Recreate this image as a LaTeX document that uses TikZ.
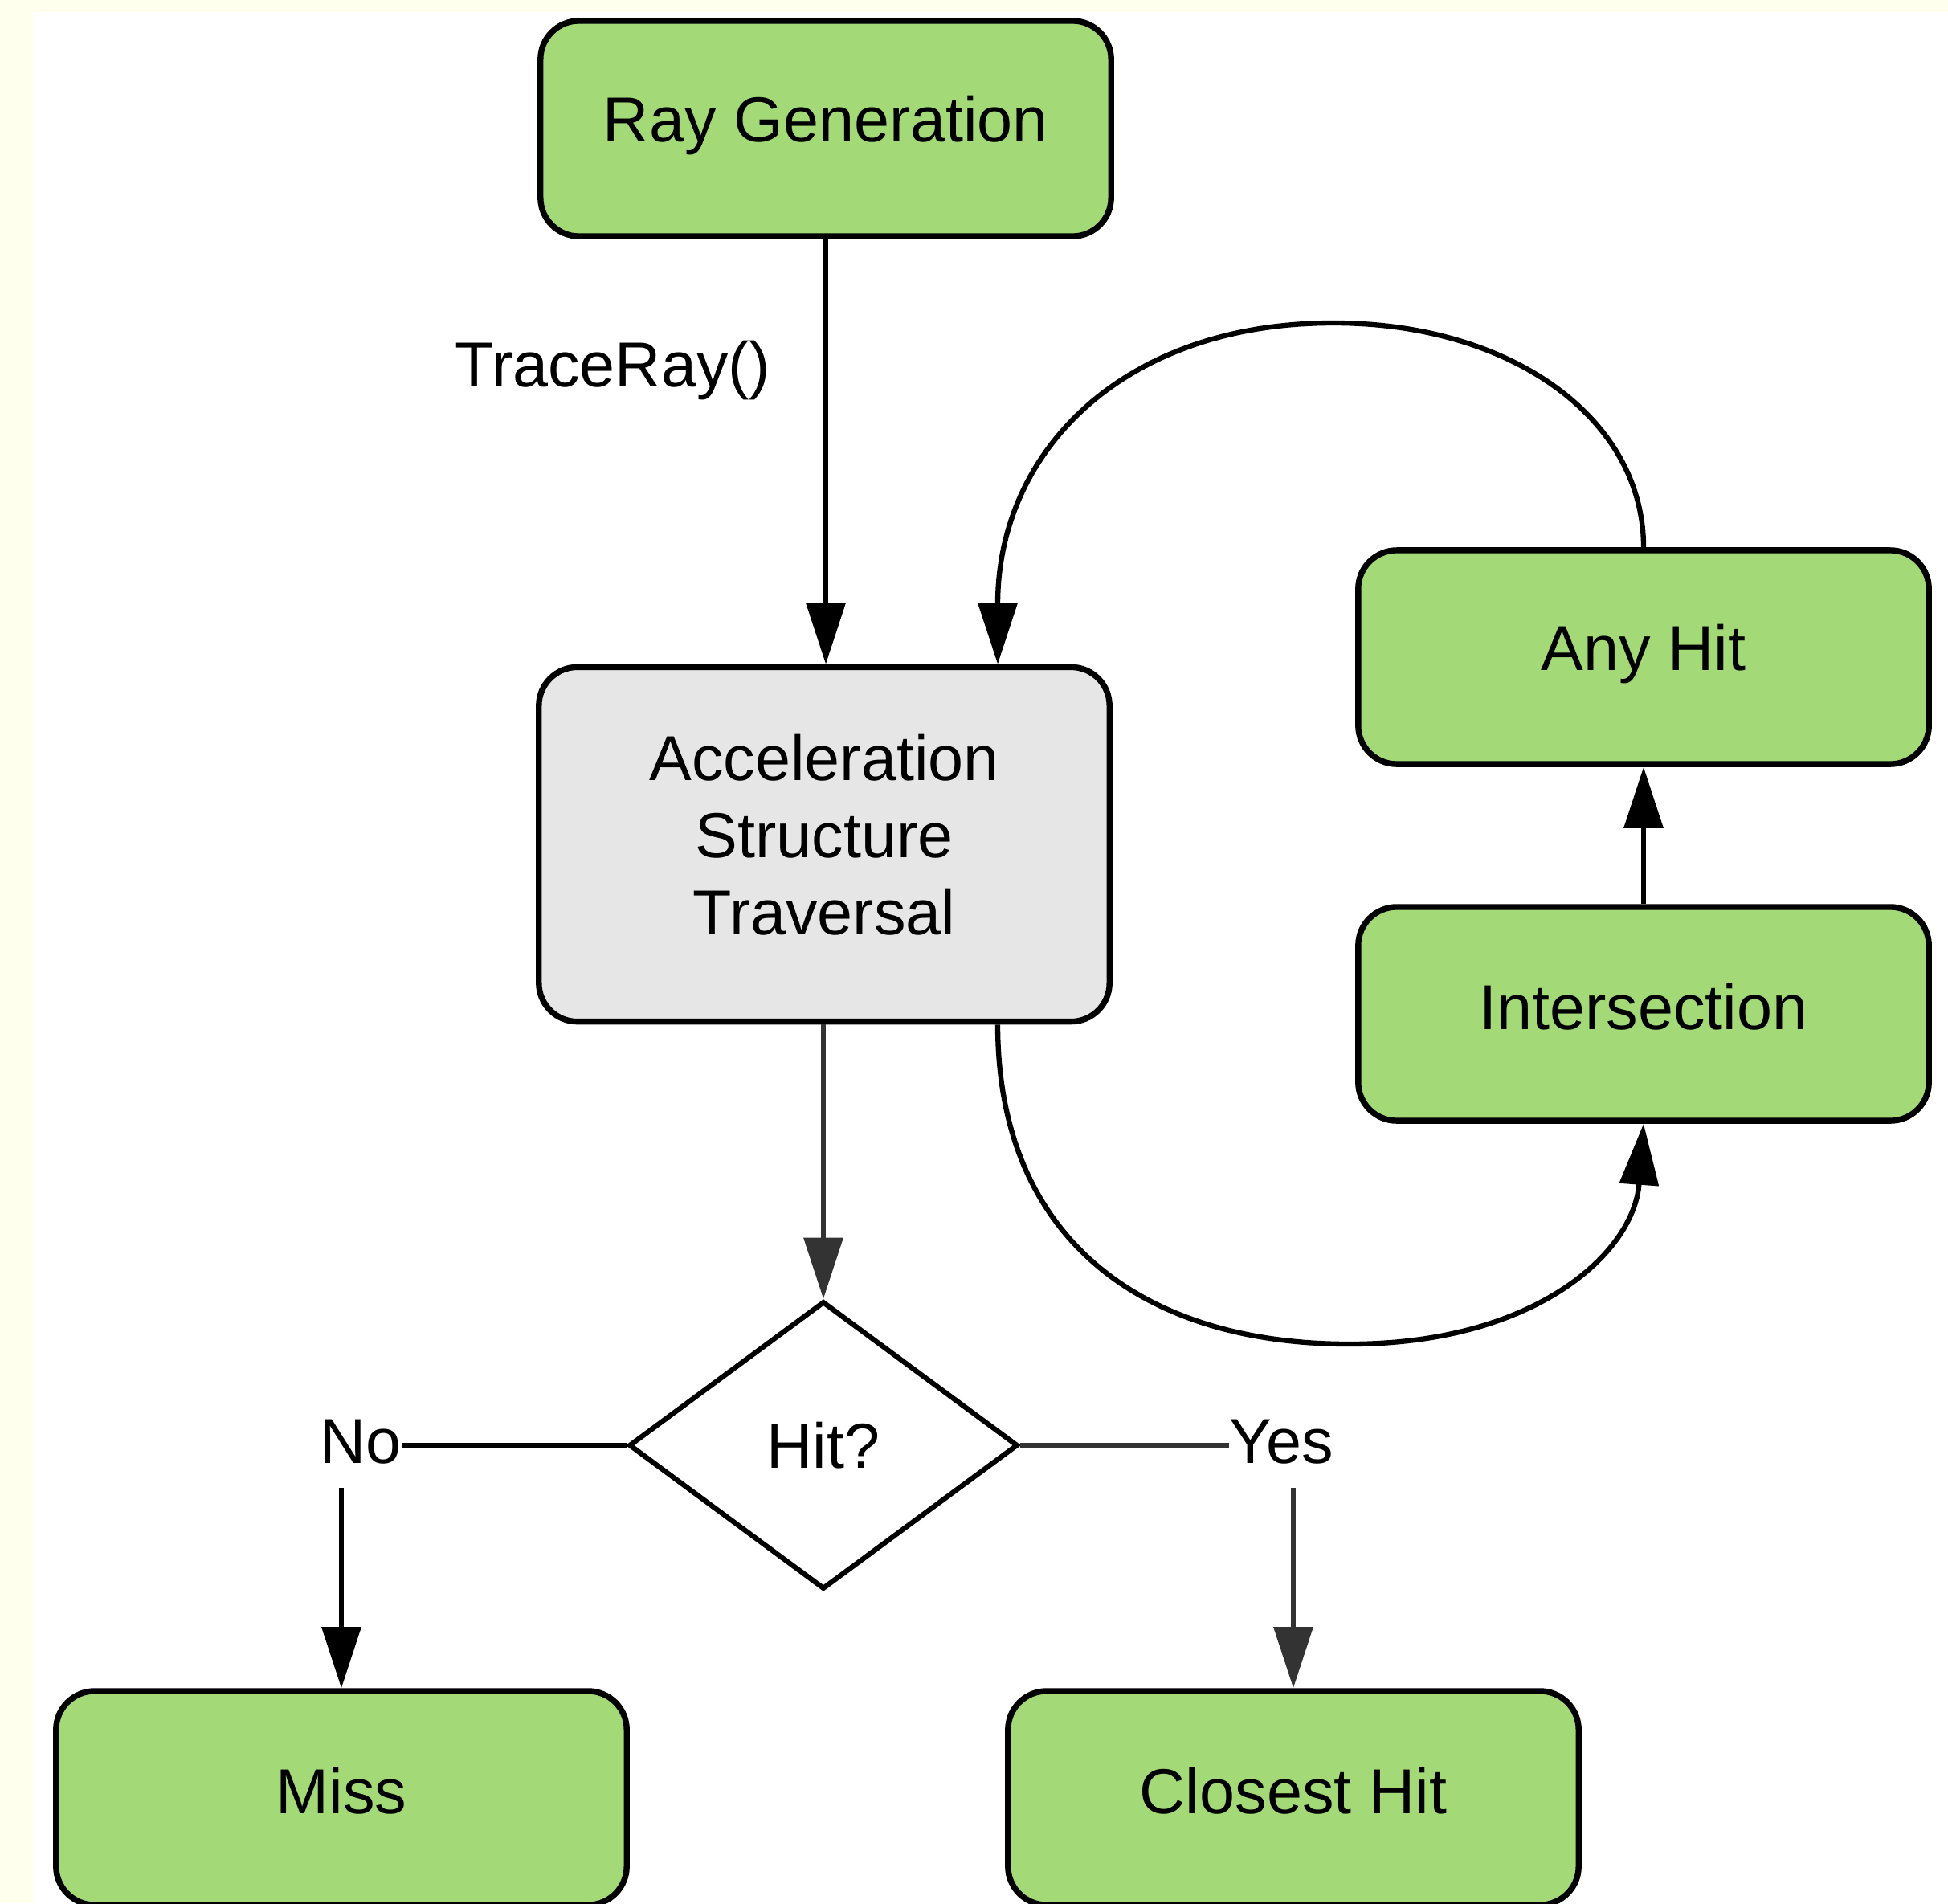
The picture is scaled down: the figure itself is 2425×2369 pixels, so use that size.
\documentclass[tikz,border=0pt]{standalone}
\usepackage{fontspec}
\setmainfont{Liberation Sans}
\usetikzlibrary{arrows.meta,shapes.geometric,calc}
\definecolor{boxgreen}{RGB}{163,217,119}
\definecolor{boxgray}{RGB}{230,230,230}
\definecolor{cream}{RGB}{255,255,238}
\definecolor{darkline}{RGB}{51,51,51}
\tikzset{
  proc/.style={draw=black, line width=2.1pt, rounded corners=0.48cm, fill=boxgreen,
    minimum width=7.1cm, minimum height=2.66cm, align=center, text=black, text depth=5pt},
  gproc/.style={proc, fill=boxgray, minimum height=4.41cm, text depth=7pt},
  decision/.style={diamond, draw=black, line width=1.8pt, fill=white,
    minimum width=4.84cm, minimum height=3.58cm, inner sep=0pt},
  lbl/.style={inner sep=0pt, text=black},
  conn/.style={line width=1.8pt, -{Triangle[length=0.76cm,width=0.48cm]}},
  plain/.style={line width=1.8pt}
}
\begin{document}
\begin{tikzpicture}[x=0.01cm, y=-0.01cm, font=\fontsize{22.5pt}{27.3pt}\selectfont]
\fill[cream] (0,0) rectangle (2425,2369);
\fill[white] (41,15) rectangle (2425,2369);
\useasboundingbox (0,0) rectangle (2425,2369);

\node[proc, minimum height=2.68cm, text depth=7pt] (rg) at (1028,160) {Ray Generation};
\node[gproc] (acc) at (1026,1051) {Acceleration\\Structure\\Traversal};
\node[proc, text depth=7pt] (ah) at (2046,818) {Any Hit};
\node[proc] (int) at (2046,1262) {Intersection};
\node[decision] (hit) at (1025,1799) {Hit?};
\node[proc] (miss) at (425,2238) {Miss};
\node[proc] (ch) at (1610,2238) {Closest Hit};

\node[lbl] (tr) at (763,461) {TraceRay()};
\node[lbl] (no) at (449,1795) {No};
\node[lbl] (yes) at (1595,1795) {Yes};

\draw[conn] (rg.south) -- (rg.south |- acc.north);
\draw[conn, draw=darkline] (hit.north |- acc.south) -- (hit.north);
\draw[conn] (int.north) -- (ah.south);

\draw[conn] (ah.north) .. controls (2046,520) and (1880,402) .. (1660,402)
  .. controls (1400,402) and (1242,560) .. ($(acc.north)+(216,0)$);
\draw[conn] ($(acc.south)+(216,0)$) .. controls (1242,1540) and (1420,1673) .. (1680,1673)
  .. controls (1910,1673) and (2034,1560) .. (int.south);

\draw[plain] (hit.west) -- (hit.west -| no.east);
\draw[plain, draw=darkline] (hit.east) -- (hit.east -| yes.west);
\draw[conn] ($(miss.north |- no.south)+(0,29)$) -- (miss.north);
\draw[conn, draw=darkline] ($(ch.north |- yes.south)+(0,29)$) -- (ch.north);
\end{tikzpicture}
\end{document}
